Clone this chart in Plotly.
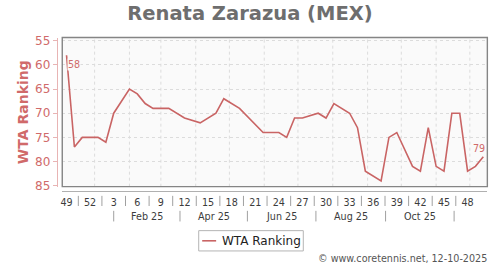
import pandas as pd
import plotly.graph_objects as go

# ---------------- data ----------------
week_dates = pd.date_range("2024-12-07", periods=54, freq="7D")
ranks = [58, 77, 75, 75, 75, 76, 70, None, 65, 66, 68, 69, 69, 69, None, 71,
         None, 72, None, 70, 67, None, 69, None, None, 74, 74, 74, 75, 71,
         71, None, 70, 71, 68, None, 70, 73, 82, None, 84, 75, 74, None,
         81, 82, 73, 81, 82, 70, 70, 82, 81, 79]
week_tick_labels = ["49", "52", "3", "6", "9", "12", "15", "18", "21", "24",
                    "27", "30", "33", "36", "39", "42", "45", "48"]
month_labels = ["Feb 25", "Apr 25", "Jun 25", "Aug 25", "Oct 25"]
month_separators = ["2025-01-18", "2025-03-18", "2025-05-17", "2025-07-17",
                    "2025-09-17", "2025-11-17"]
y_ticks = [55, 60, 65, 70, 75, 80, 85]

# ---------------- style ----------------
W, H = 500, 270
RED = "#c96464"
RED_TXT = "#d06a6a"
FONT = "DejaVu Sans"


def fx(p):
    return p / W


def fy(p):
    return 1 - p / H


start = week_dates[0]
x_range = [start - pd.Timedelta(days=3.8), start + pd.Timedelta(days=374.6)]
tick_dates = [week_dates[i] for i in range(0, len(week_dates), 3)][:len(week_tick_labels)]

fig = go.Figure()
fig.add_trace(go.Scatter(
    x=week_dates, y=ranks, mode="lines", name="WTA Ranking",
    connectgaps=True, line=dict(color=RED, width=1.6), showlegend=False,
    hoverinfo="x+y",
))

shapes = []
# monthly dashed vertical gridlines
for d in pd.date_range("2025-01-01", "2025-12-01", freq="MS"):
    shapes.append(dict(type="line", xref="x", yref="y domain", x0=d, x1=d, y0=0, y1=1,
                       line=dict(color="#dcdcdc", width=1, dash="3px,3px"), layer="below"))
# plot frame
shapes.append(dict(type="rect", xref="x domain", yref="y domain", x0=0, x1=1, y0=0, y1=1,
                   line=dict(color="#858585", width=1.4), layer="above"))
# separators between week labels
for a, b in zip(tick_dates[:-1], tick_dates[1:]):
    m = a + (b - a) / 2
    shapes.append(dict(type="line", xref="x", yref="paper", x0=m, x1=m,
                       y0=fy(199.5), y1=fy(210), line=dict(color="#a0a0a0", width=1)))
# separators of month row
for d in month_separators:
    shapes.append(dict(type="line", xref="x", yref="paper", x0=d, x1=d,
                       y0=fy(215), y1=fy(226), line=dict(color="#a0a0a0", width=1)))
# manual legend
shapes.append(dict(type="rect", xref="paper", yref="paper", x0=fx(197.5), x1=fx(302.5),
                   y0=fy(235.5), y1=fy(256.5), line=dict(color="#b4b4b4", width=1),
                   fillcolor="white"))
shapes.append(dict(type="line", xref="paper", yref="paper", x0=fx(201), x1=fx(215),
                   y0=fy(246), y1=fy(246), line=dict(color=RED, width=1.6)))

annotations = []
ms = [pd.Timestamp(d) for d in month_separators]
for lab, a, b in zip(month_labels, ms[:-1], ms[1:]):
    annotations.append(dict(x=a + (b - a) / 2, y=fy(220.5), xref="x", yref="paper",
                            text=lab, showarrow=False, xanchor="center", yanchor="middle",
                            font=dict(family=FONT, size=9.6, color="#3c3c3c")))
# first / last value labels
first_i = next(i for i, v in enumerate(ranks) if v is not None)
last_i = max(i for i, v in enumerate(ranks) if v is not None)
annotations.append(dict(x=week_dates[first_i], y=ranks[first_i], xref="x", yref="y",
                        text=str(ranks[first_i]), showarrow=False, xanchor="center",
                        yanchor="middle", xshift=7, yshift=-9.5, bgcolor="#fafafa",
                        borderpad=0, font=dict(family=FONT, size=9.6, color=RED_TXT)))
annotations.append(dict(x=week_dates[last_i], y=ranks[last_i], xref="x", yref="y",
                        text=str(ranks[last_i]), showarrow=False, xanchor="center",
                        yanchor="middle", xshift=-4.5, yshift=8.5,
                        font=dict(family=FONT, size=9.6, color=RED_TXT)))
# legend text
annotations.append(dict(x=fx(219), y=fy(246), xref="paper", yref="paper",
                        text="WTA Ranking", showarrow=False, xanchor="left", yanchor="middle",
                        font=dict(family=FONT, size=12, color="#222")))
# y-axis title
annotations.append(dict(x=fx(21), y=fy(113), xref="paper", yref="paper",
                        text="<b>WTA Ranking</b>", showarrow=False, textangle=-90,
                        xanchor="center", yanchor="middle",
                        font=dict(family=FONT, size=14, color=RED_TXT)))
# credits
annotations.append(dict(x=fx(489), y=fy(264), xref="paper", yref="paper",
                        text="© www.coretennis.net, 12-10-2025", showarrow=False,
                        xanchor="right", yanchor="middle",
                        font=dict(family=FONT, size=9.6, color="#555")))

fig.update_layout(
    width=W, height=H, margin=dict(l=0, r=0, t=0, b=0),
    paper_bgcolor="white", plot_bgcolor="#fafafa",
    title=dict(text="<b>Renata Zarazua (MEX)</b>", x=0.5, xanchor="center",
               y=fy(13), yanchor="middle",
               font=dict(family=FONT, size=19.5, color="#6e6e6e")),
    xaxis=dict(type="date", domain=[fx(60.5), fx(487.3)], range=x_range,
               anchor="free", position=fy(194.5), showline=True, linecolor="#b0b0b0",
               linewidth=1, showgrid=False, zeroline=False, ticks="",
               ticklabelstandoff=2,
               tickvals=tick_dates, ticktext=week_tick_labels,
               tickfont=dict(family=FONT, size=9.6, color="#3c3c3c")),
    yaxis=dict(domain=[fy(190), fy(35.7)], range=[85.2, 54.34], anchor="free",
               position=fx(55), showline=True, linecolor="#e8b4b4", linewidth=1,
               ticks="outside", ticklen=4, tickcolor="#e8b4b4", tickvals=y_ticks,
               showgrid=True, gridcolor="#dcdcdc", griddash="3px,3px", gridwidth=1,
               zeroline=False,
               tickfont=dict(family=FONT, size=12, color=RED_TXT)),
    shapes=shapes, annotations=annotations, showlegend=False,
)

fig.write_html("out.html")
